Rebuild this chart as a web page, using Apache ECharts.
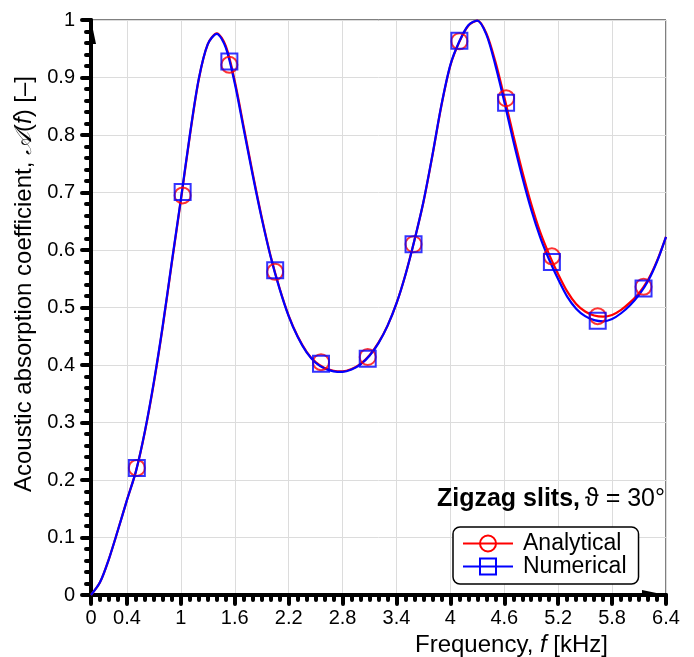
<!DOCTYPE html>
<html>
<head>
<meta charset="utf-8">
<script src="https://cdn.jsdelivr.net/npm/echarts@6/dist/echarts.min.js"></script>
<style>html,body{margin:0;padding:0;background:#fff}#c{width:694px;height:657px}</style>
</head>
<body>
<div id="c"></div>
<script>
// ---- data ----
const freq = [0,0.1,0.2,0.3,0.4,0.5,0.6,0.7,0.8,0.9,1.0,1.1,1.2,1.3,1.4,1.5,1.6,1.7,1.8,1.9,2.0,2.1,2.2,2.3,2.4,2.5,2.6,2.7,2.8,2.9,3.0,3.1,3.2,3.3,3.4,3.5,3.6,3.7,3.8,3.9,4.0,4.1,4.2,4.3,4.4,4.5,4.6,4.7,4.8,4.9,5.0,5.1,5.2,5.3,5.4,5.5,5.6,5.7,5.8,5.9,6.0,6.1,6.2,6.3,6.4];
const numericalCurve = [0,0.022,0.063,0.113,0.165,0.215,0.285,0.371,0.47,0.58,0.688,0.80,0.898,0.958,0.976,0.952,0.89,0.81,0.73,0.655,0.588,0.532,0.485,0.449,0.422,0.404,0.394,0.389,0.388,0.392,0.401,0.416,0.438,0.468,0.507,0.557,0.617,0.684,0.765,0.852,0.922,0.963,0.991,0.999,0.975,0.922,0.858,0.79,0.727,0.67,0.622,0.583,0.549,0.519,0.498,0.485,0.478,0.476,0.48,0.49,0.504,0.522,0.546,0.58,0.623];
const analyticalCurve = [0,0.022,0.063,0.113,0.165,0.215,0.284,0.369,0.468,0.578,0.686,0.798,0.897,0.958,0.977,0.955,0.894,0.814,0.733,0.657,0.589,0.533,0.486,0.45,0.423,0.405,0.395,0.39,0.389,0.393,0.402,0.417,0.439,0.468,0.507,0.557,0.617,0.683,0.764,0.851,0.921,0.962,0.99,0.999,0.977,0.928,0.866,0.80,0.737,0.68,0.631,0.592,0.558,0.528,0.506,0.493,0.486,0.484,0.487,0.496,0.509,0.525,0.548,0.581,0.623];
const markFreq = [0.51,1.02,1.54,2.05,2.56,3.08,3.59,4.10,4.62,5.13,5.64,6.15];
const analyticalMarks = [0.221,0.695,0.922,0.562,0.405,0.414,0.610,0.963,0.864,0.589,0.485,0.536];
const numericalMarks = [0.221,0.701,0.928,0.565,0.402,0.411,0.610,0.964,0.856,0.579,0.477,0.533];
const xTickLabels = [0,0.4,1,1.6,2.2,2.8,3.4,4,4.6,5.2,5.8,6.4];
const seriesNames = ['Analytical','Numerical'];

const pair = (xs, ys) => xs.map((x, i) => [x, ys[i]]);
const FONT = '"Liberation Sans", Arial, Helvetica, sans-serif';
const RED = '#ff0000', BLUE = '#0000ff';

const chart = echarts.init(document.getElementById('c'), null, {renderer: 'canvas'});
chart.setOption({
  animation: false,
  backgroundColor: '#fff',
  textStyle: {fontFamily: FONT, color: '#000'},
  grid: {left: 91, right: 28, top: 20, bottom: 62, containLabel: false, outerBoundsMode: 'none',
    show: true, borderColor: '#000', borderWidth: 1, backgroundColor: 'transparent'},
  title: {
    text: '{b|Zigzag slits,} {n|ϑ = 30°}',
    right: 29, top: 487, padding: 0,
    textStyle: {fontWeight: 'normal', rich: {
      b: {fontFamily: FONT, fontWeight: 'bold', fontSize: 25, color: '#000'},
      n: {fontFamily: FONT, fontWeight: 'normal', fontSize: 25, color: '#000'}
    }}
  },
  legend: {
    data: seriesNames,
    orient: 'vertical',
    left: 453, top: 527,
    padding: [5, 12, 6, 9],
    itemWidth: 50, itemHeight: 20, itemGap: 0,
    borderColor: '#000', borderWidth: 1.5, borderRadius: 7,
    backgroundColor: '#fff',
    textStyle: {fontFamily: FONT, fontSize: 23, lineHeight: 20, color: '#000', padding: [0, 0, 0, 5]}
  },
  xAxis: [{
    type: 'value', min: 0, max: 6.4, position: 'bottom',
    name: 'Frequency, {i|f} [kHz]', nameLocation: 'middle', nameGap: 31,
    nameTextStyle: {fontFamily: FONT, fontSize: 24, color: '#000', padding: [0, 0, 0, 266],
      rich: {i: {fontFamily: FONT, fontStyle: 'italic', fontSize: 24, color: '#000'}}},
    axisLine: {show: true, lineStyle: {color: '#000', width: 4},
      symbol: ['none', 'path://M5,0 M0,0 L-5,24 L0,24 Z'], symbolSize: [10, 24], symbolOffset: [0, -12]},
    axisTick: {show: true, customValues: xTickLabels, length: 9, lineStyle: {color: '#000', width: 4, cap: 'round'}},
    axisLabel: {customValues: xTickLabels, margin: 13, fontFamily: FONT, fontSize: 20, color: '#000'},
    splitLine: {show: true, lineStyle: {color: '#dcdcdc', width: 1}}
  }, {
    type: 'value', min: 0, max: 6.4, interval: 0.1, position: 'bottom', gridIndex: 0,
    axisLine: {show: false},
    axisTick: {show: true, length: 5, lineStyle: {color: '#000', width: 4, cap: 'round'}},
    axisLabel: {show: false},
    splitLine: {show: false}
  }],
  yAxis: {
    type: 'value', min: 0, max: 1, interval: 0.1,
    name: 'Acoustic absorption coefficient, {i|𝒜}({i|f}) [–]', nameLocation: 'middle', nameGap: 48,
    nameTextStyle: {fontFamily: FONT, fontSize: 24, color: '#000', padding: [0, 0, 0, 47],
      rich: {i: {fontFamily: FONT, fontStyle: 'italic', fontSize: 24, color: '#000'}}},
    axisLine: {show: true, lineStyle: {color: '#000', width: 4},
      symbol: ['none', 'path://M-5,0 M0,0 L5,24 L0,24 Z'], symbolSize: [10, 24], symbolOffset: [0, -12]},
    axisTick: {show: true, length: 9, lineStyle: {color: '#000', width: 4, cap: 'round'}},
    minorTick: {show: true, splitNumber: 5, length: 5, lineStyle: {color: '#000', width: 4, cap: 'round'}},
    axisLabel: {margin: 16, fontFamily: FONT, fontSize: 20, color: '#000'},
    splitLine: {show: true, lineStyle: {color: '#dcdcdc', width: 1}}
  },
  series: [
    {name: 'Analytical', type: 'line', data: pair(freq, analyticalCurve), smooth: 0.3,
     showSymbol: false, symbol: 'circle', symbolSize: 16,
     lineStyle: {color: RED, width: 2.2},
     itemStyle: {color: 'rgba(255,255,255,0)', borderColor: RED, borderWidth: 2}, z: 3},
    {name: 'Numerical', type: 'line', data: pair(freq, numericalCurve), smooth: 0.3,
     showSymbol: false, symbol: 'rect', symbolSize: 16,
     lineStyle: {color: BLUE, width: 2.2},
     itemStyle: {color: 'rgba(255,255,255,0)', borderColor: BLUE, borderWidth: 2}, z: 4},
    {name: 'Analytical marks', type: 'scatter', data: pair(markFreq, analyticalMarks),
     symbol: 'circle', symbolSize: 16,
     itemStyle: {color: 'rgba(255,255,255,0)', borderColor: RED, borderWidth: 2}, z: 5},
    {name: 'Numerical marks', type: 'scatter', data: pair(markFreq, numericalMarks),
     symbol: 'rect', symbolSize: 16,
     itemStyle: {color: 'rgba(255,255,255,0)', borderColor: BLUE, borderWidth: 2}, z: 6}
  ]
});
</script>
</body>
</html>
